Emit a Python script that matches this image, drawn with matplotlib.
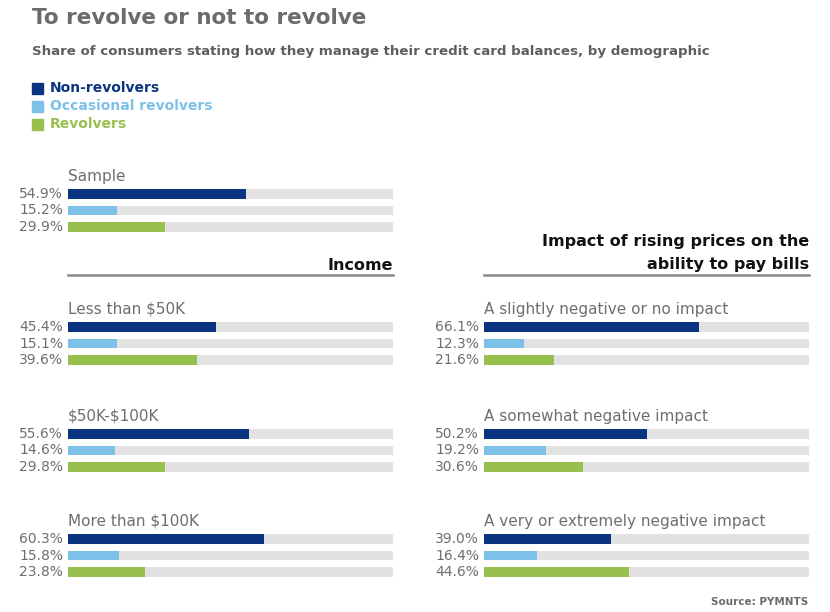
import matplotlib.pyplot as plt

plt.rcParams['text.parse_math'] = False

# data
series = ['Non-revolvers', 'Occasional revolvers', 'Revolvers']
colors = ['#0b3480', '#7dc1e8', '#97c04f']

income_groups = ['Sample', 'Less than $50K', '$50K-$100K', 'More than $100K']
income_values = [[54.9, 15.2, 29.9],
                 [45.4, 15.1, 39.6],
                 [55.6, 14.6, 29.8],
                 [60.3, 15.8, 23.8]]

impact_groups = ['A slightly negative or no impact',
                 'A somewhat negative impact',
                 'A very or extremely negative impact']
impact_values = [[66.1, 12.3, 21.6],
                 [50.2, 19.2, 30.6],
                 [39.0, 16.4, 44.6]]

W, H = 830, 612
fig = plt.figure(figsize=(W / 100, H / 100), dpi=100)
fig.patch.set_facecolor('white')


def px(x, y):
    return x / W, 1 - y / H


def group_axes(x0, y_first, name, vals):
    # axes box in pixels: width 325, 3 rows ~16.5px apart
    top = y_first - 8
    bottom = y_first + 2 * 16.5 + 8
    ax = fig.add_axes([x0 / W, 1 - bottom / H, 325 / W, (bottom - top) / H])
    rows = [0, 1, 2]
    ax.barh(rows, [100] * 3, height=0.6, color='#e2e2e2')
    ax.barh(rows, vals, height=0.6, color=colors)
    ax.set_xlim(0, 100)
    ax.set_ylim(2.5, -0.5)
    ax.axis('off')
    for r, v in zip(rows, vals):
        ax.text(-1.5, r, f'{v:.1f}%', ha='right', va='center',
                fontsize=10, color='#6e6e6e')
    ax.text(0, 1.05, name, transform=ax.transAxes, ha='left', va='bottom',
            fontsize=11, color='#6e6e6e')
    return ax


# title block
fig.text(*px(32, 18), 'To revolve or not to revolve', fontsize=15.5,
         fontweight='bold', color='#6b6b6b', va='center', ha='left')
fig.text(*px(32, 51), 'Share of consumers stating how they manage their credit card balances, by demographic',
         fontsize=9.6, fontweight='bold', color='#5e5e5e', va='center', ha='left')

for i, (s, c) in enumerate(zip(series, colors)):
    y = 88 + i * 18
    fig.patches.append(plt.Rectangle((32 / W, 1 - (y + 6) / H), 11 / W, 11 / H,
                                     transform=fig.transFigure, color=c))
    fig.text(*px(50, y), s, fontsize=10, fontweight='bold', color=c,
             va='center', ha='left')

# left panel (income)
y_first = [194, 327, 434, 539]
for g, v, y in zip(income_groups, income_values, y_first):
    group_axes(68, y, g, v)

# right panel (impact)
for g, v, y in zip(impact_groups, impact_values, y_first[1:]):
    group_axes(484, y, g, v)

# section headers
fig.text(*px(393, 266), 'Income', fontsize=11.5, fontweight='bold',
         color='#111111', ha='right', va='center')
fig.text(*px(809, 242), 'Impact of rising prices on the', fontsize=11.5,
         fontweight='bold', color='#111111', ha='right', va='center')
fig.text(*px(809, 265), 'ability to pay bills', fontsize=11.5,
         fontweight='bold', color='#111111', ha='right', va='center')
for x0, x1 in [(68, 393), (484, 809)]:
    fig.add_artist(plt.Line2D([x0 / W, x1 / W], [1 - 275 / H] * 2,
                              transform=fig.transFigure, color='#8a8a8a', lw=1.8))

fig.text(*px(808, 602), 'Source: PYMNTS', fontsize=7.5, fontweight='bold',
         color='#6b6b6b', ha='right', va='center')

plt.savefig('out.png', dpi=100)
